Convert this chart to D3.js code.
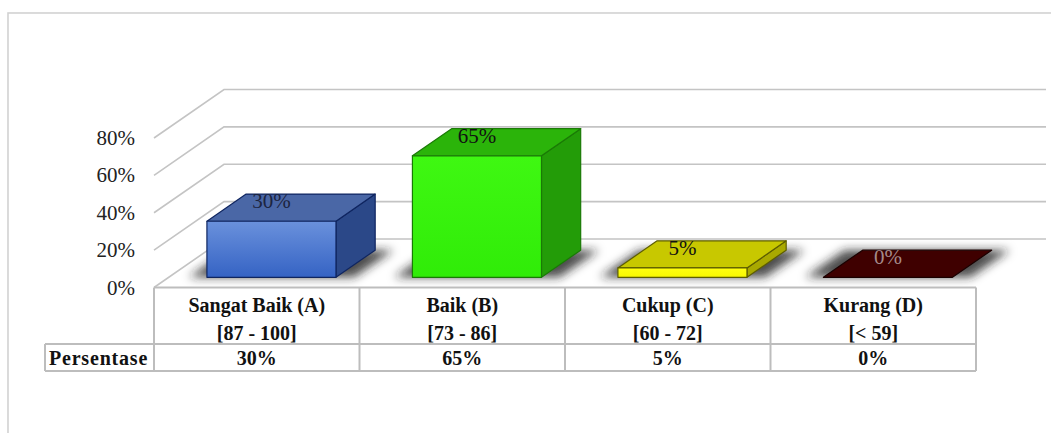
<!DOCTYPE html>
<html>
<head>
<meta charset="utf-8">
<script src="https://cdn.jsdelivr.net/npm/d3@7"></script>
<style>
  html, body { margin: 0; padding: 0; background: #fff; }
  svg { display: block; }
</style>
</head>
<body>
<svg id="chart" width="1051" height="433"></svg>
<script>
// Grade categories, score ranges and the share of each grade
const categories = ["Sangat Baik (A)", "Baik (B)", "Cukup (C)", "Kurang (D)"];
const ranges = ["[87 - 100]", "[73 - 86]", "[60 - 72]", "[< 59]"];
const values = [30, 65, 5, 0];
const seriesName = "Persentase";
const yTicks = [0, 20, 40, 60, 80];
const tickLabels = ["0%", "20%", "40%", "60%", "80%"];

// Face colours for each column: front (top/bottom of gradient), top, side, outline, label
const palettes = [
  { front0: "#6a91dc", front1: "#3563c4", top: "#4a67a6", side: "#2b4888", edge: "#0f2560", label: "#1c2440" },
  { front0: "#3ff812", front1: "#30ec08", top: "#2bb40a", side: "#239c08", edge: "#1a7a06", label: "#111" },
  { front0: "#ffff10", front1: "#f8f800", top: "#c8c800", side: "#a9a900", edge: "#5e5e00", label: "#111" },
  { front0: "#4a0000", front1: "#3a0000", top: "#3f0000", side: "#2a0000", edge: "#1a0000", label: "#a48a8a" }
];

const svg = d3.select("#chart");
const serif = "'Liberation Serif', 'Times New Roman', serif";

// Oblique projection for the 3-D look
const DX = 70, DY = 48.5;           // screen offset of full floor depth
const Z_FRONT = 0.21, Z_BACK = 0.77; // depth span occupied by a column

const x = d3.scaleBand().domain(categories).range([154, 976]).padding(0);
const y = d3.scaleLinear().domain([0, 80]).range([287.5, 138]);
const barFrac = 0.628;

const px = (xx, z) => xx + z * DX;
const py = (v, z) => y(v) - z * DY;

// Outer frame
svg.append("rect")
  .attr("x", 8).attr("y", 13).attr("width", 1200).attr("height", 600)
  .attr("fill", "none").attr("stroke", "#d2d2d2").attr("stroke-width", 1.6);

// Gridlines: diagonal on the side wall, then across the back wall
const grid = svg.append("g").attr("stroke", "#c4c4c4").attr("stroke-width", 1.6).attr("fill", "none");
const x0 = x.range()[0], x1 = x.range()[1];
yTicks.forEach(t => {
  grid.append("path").attr("d", d3.line()([
    [px(x0, 0), py(t, 0)], [px(x0, 1), py(t, 1)], [px(x1, 1), py(t, 1)]
  ]));
});

// Tick labels
svg.append("g").selectAll("text").data(yTicks).join("text")
  .attr("x", 135).attr("y", d => y(d) + 7)
  .attr("text-anchor", "end")
  .attr("font-family", serif).attr("font-size", 21).attr("fill", "#222")
  .text((d, i) => tickLabels[i]);

// Soft shadows on the floor
const defs = svg.append("defs");
defs.append("filter").attr("id", "soft").attr("x", "-30%").attr("y", "-80%").attr("width", "160%").attr("height", "260%")
  .append("feGaussianBlur").attr("stdDeviation", 5);

palettes.forEach((p, i) => {
  const g = defs.append("linearGradient").attr("id", "front" + i)
    .attr("x1", 0).attr("y1", 0).attr("x2", 0).attr("y2", 1);
  g.append("stop").attr("offset", "0%").attr("stop-color", p.front0);
  g.append("stop").attr("offset", "100%").attr("stop-color", p.front1);
});

const bars = categories.map((c, i) => {
  const w = x.bandwidth() * barFrac;
  const left = x(c) + (x.bandwidth() - w) / 2;
  return { c, i, v: values[i], left, right: left + w, p: palettes[i] };
});

const shadowG = svg.append("g").attr("filter", "url(#soft)");
bars.forEach(b => {
  const pad = 18;
  shadowG.append("path")
    .attr("d", d3.line()([
      [px(b.left - pad, Z_FRONT), py(0, Z_FRONT)],
      [px(b.right + pad, Z_FRONT), py(0, Z_FRONT)],
      [px(b.right + pad, Z_BACK), py(0, Z_BACK)],
      [px(b.left - pad, Z_BACK), py(0, Z_BACK)]
    ]) + "Z")
    .attr("fill", "#222").attr("opacity", 0.8);
});

// Columns: side, top, front faces
const barG = svg.append("g");
bars.forEach(b => {
  const g = barG.append("g").attr("stroke", b.p.edge).attr("stroke-width", 1.2).attr("stroke-linejoin", "round");
  const line = d3.line();
  if (b.v > 0) {
    g.append("path").attr("fill", b.p.side).attr("d", line([
      [px(b.right, Z_FRONT), py(0, Z_FRONT)],
      [px(b.right, Z_BACK), py(0, Z_BACK)],
      [px(b.right, Z_BACK), py(b.v, Z_BACK)],
      [px(b.right, Z_FRONT), py(b.v, Z_FRONT)]
    ]) + "Z");
  }
  g.append("path").attr("fill", b.p.top).attr("d", line([
    [px(b.left, Z_FRONT), py(b.v, Z_FRONT)],
    [px(b.right, Z_FRONT), py(b.v, Z_FRONT)],
    [px(b.right, Z_BACK), py(b.v, Z_BACK)],
    [px(b.left, Z_BACK), py(b.v, Z_BACK)]
  ]) + "Z");
  if (b.v > 0) {
    g.append("path").attr("fill", `url(#front${b.i})`).attr("d", line([
      [px(b.left, Z_FRONT), py(0, Z_FRONT)],
      [px(b.right, Z_FRONT), py(0, Z_FRONT)],
      [px(b.right, Z_FRONT), py(b.v, Z_FRONT)],
      [px(b.left, Z_FRONT), py(b.v, Z_FRONT)]
    ]) + "Z");
  }
});

// Value labels above each column
svg.append("g").selectAll("text").data(bars).join("text")
  .attr("x", b => px((b.left + b.right) / 2, Z_FRONT))
  .attr("y", b => py(b.v, Z_FRONT) - 13)
  .attr("text-anchor", "middle")
  .attr("font-family", serif).attr("font-size", 21)
  .attr("fill", b => b.p.label)
  .text(b => b.v + "%");

// Data table under the plot
const rowTop = 287.5, rowMid = 344, rowBot = 371, tableLeft = 45;
const table = svg.append("g");
const tl = table.append("g").attr("stroke", "#bdbdbd").attr("stroke-width", 2).attr("fill", "none");
tl.append("path").attr("d", d3.line()([[x0, rowTop], [x1, rowTop]]));
tl.append("path").attr("d", d3.line()([[tableLeft, rowMid], [x1, rowMid]]));
tl.append("path").attr("d", d3.line()([[tableLeft, rowBot], [x1, rowBot]]));
tl.append("path").attr("d", d3.line()([[tableLeft, rowMid], [tableLeft, rowBot]]));
[x0, ...categories.map(c => x(c) + x.bandwidth())].forEach(xx => {
  tl.append("path").attr("d", d3.line()([[xx, rowTop], [xx, rowBot]]));
});

const txt = table.append("g").attr("font-family", serif).attr("font-weight", "bold")
  .attr("font-size", 20).attr("fill", "#111").attr("text-anchor", "middle");
categories.forEach((c, i) => {
  const cx = x(c) + x.bandwidth() / 2;
  txt.append("text").attr("x", cx).attr("y", 312).text(c);
  txt.append("text").attr("x", cx).attr("y", 340).text(ranges[i]);
  txt.append("text").attr("x", cx).attr("y", 364.5).text(values[i] + "%");
});
txt.append("text").attr("x", 49).attr("y", 364.5).attr("text-anchor", "start")
  .attr("letter-spacing", 0.8).text(seriesName);
</script>
</body>
</html>
